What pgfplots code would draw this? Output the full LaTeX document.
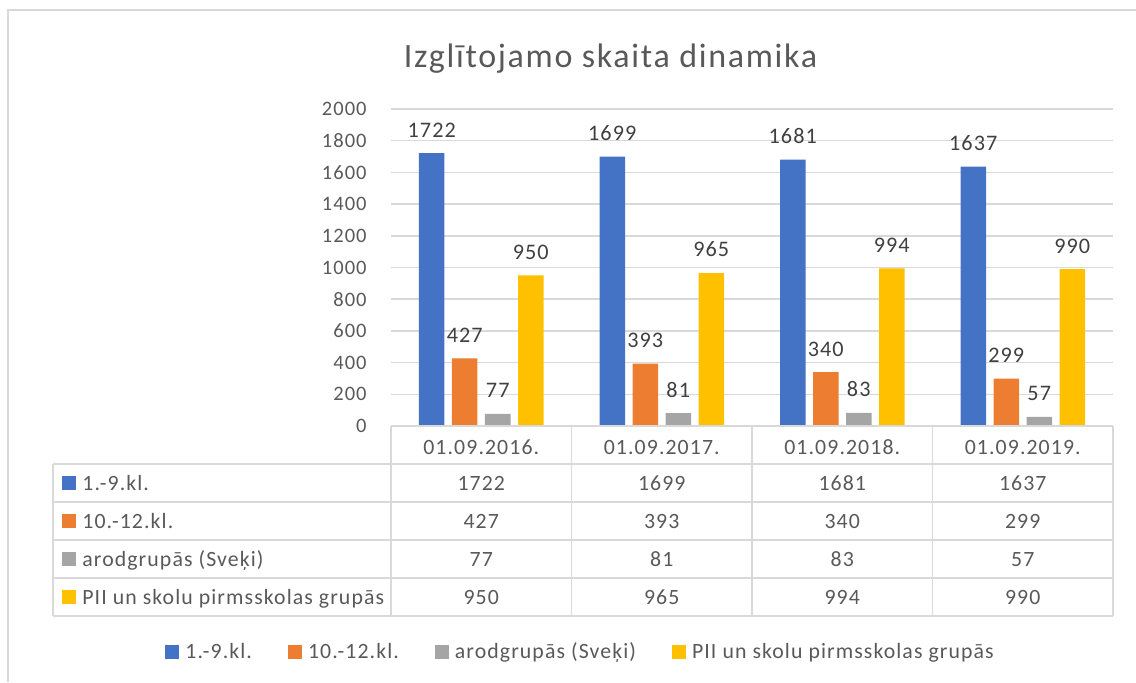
\documentclass[border=0pt]{standalone}
\usepackage{pgfplots}
\pgfplotsset{compat=1.18}
\usepackage{pgfplotstable}
\usepackage{fontspec}
\setmainfont{Carlito}[LetterSpace=5]
\definecolor{cblue}{HTML}{4472C4}
\definecolor{corange}{HTML}{ED7D31}
\definecolor{cgray}{HTML}{A5A5A5}
\definecolor{cyellow}{HTML}{FFC000}
\definecolor{txt}{HTML}{595959}
\definecolor{lbl}{HTML}{404040}
\definecolor{gridc}{HTML}{D9D9D9}
\pgfplotstableread{
x a b c d
0 1722 427 77 950
1 1699 393 81 965
2 1681 340 83 994
3 1637 299 57 990
}\datatable
\newcommand{\fs}{\fontsize{10.25}{12.3}\selectfont}
\newcommand{\ft}{\fontsize{10.9}{13}\selectfont}
\begin{document}
\begin{tikzpicture}[x=0.5pt,y=0.5pt,font=\ft,text=txt]
\useasboundingbox (0,0) rectangle (1136,682);
\draw[gridc, line width=0.75pt] (8,0) -- (8,672) -- (1136,672);
\node[anchor=base, font=\fontsize{17}{20}\selectfont, text=txt, inner sep=0pt] at (610.5,615) {Izglītojamo skaita dinamika};
\begin{axis}[
  at={(195.5pt,128pt)}, anchor=south west,
  scale only axis, width=361pt, height=158.5pt,
  xmin=-0.5, xmax=3.5, ymin=0, ymax=2000,
  ytick distance=200, xtick=\empty,
  ymajorgrids, grid style={draw=gridc, line width=0.75pt},
  axis line style={draw=none}, major tick length=0pt,
  /pgf/number format/assume math mode=true,
  /pgf/number format/1000 sep={},
  yticklabel style={font=\fs, text=txt, anchor=east, inner sep=0pt, xshift=-12pt},
  ybar=3.75pt, bar width=12.75pt,
  nodes near coords,
  every node near coord/.append style={font=\fontsize{11.1}{13}\selectfont, text=lbl, inner sep=0pt, yshift=7.75pt},
  clip=false,
  legend columns=4,
  legend image code/.code={\fill[#1] (0pt,-3.5pt) rectangle (7pt,3.5pt);},
  legend style={at={(-0.313,-0.7129)}, anchor=west, draw=none, fill=none, inner sep=0pt,
    font=\ft, nodes={inner sep=0pt, text=txt},
    /tikz/every odd column/.append style={column sep=3pt},
    /tikz/every even column/.append style={column sep=18pt}},
]
\addplot[draw=none, fill=cblue] table[x=x,y=a]{\datatable};
\addplot[draw=none, fill=corange] table[x=x,y=b]{\datatable};
\addplot[draw=none, fill=cgray] table[x=x,y=c]{\datatable};
\addplot[draw=none, fill=cyellow] table[x=x,y=d]{\datatable};
\legend{1.-9.kl., 10.-12.kl., arodgrupās (Sveķi), PII un skolu pirmsskolas grupās}
\end{axis}
% data table
\begin{scope}[draw=gridc, line width=0.75pt]
\draw (391,256) -- (1113,256);
\foreach \yy in {218,180,142,104,66} \draw (53,\yy) -- (1113,\yy);
\draw (53,218) -- (53,66);
\foreach \xx in {391,571.5,752,932.5,1113} \draw (\xx,256) -- (\xx,66);
\end{scope}
\foreach \lab [count=\i from 0] in {01.09.2016., 01.09.2017., 01.09.2018., 01.09.2019.}
  \node[anchor=base, inner sep=0pt] at (481.25+180.5*\i, 228) {\lab};
\foreach \col/\lab [count=\k from 0] in {cblue/{1.-9.kl.}, corange/{10.-12.kl.}, cgray/{arodgrupās (Sveķi)}, cyellow/{PII un skolu pirmsskolas grupās}} {
  \fill[\col] (62,199-38*\k-7) rectangle ++(14,14);
  \node[anchor=base west, inner sep=0pt] at (82,199-38*\k-7) {\lab};
}
\foreach \r in {0,1,2,3} {
  \foreach \c [count=\k from 0] in {a,b,c,d} {
    \pgfplotstablegetelem{\r}{\c}\of\datatable
    \node[anchor=base, inner sep=0pt] at (481.25+180.5*\r, 199-38*\k-7) {\pgfplotsretval};
  }
}
\end{tikzpicture}
\end{document}
